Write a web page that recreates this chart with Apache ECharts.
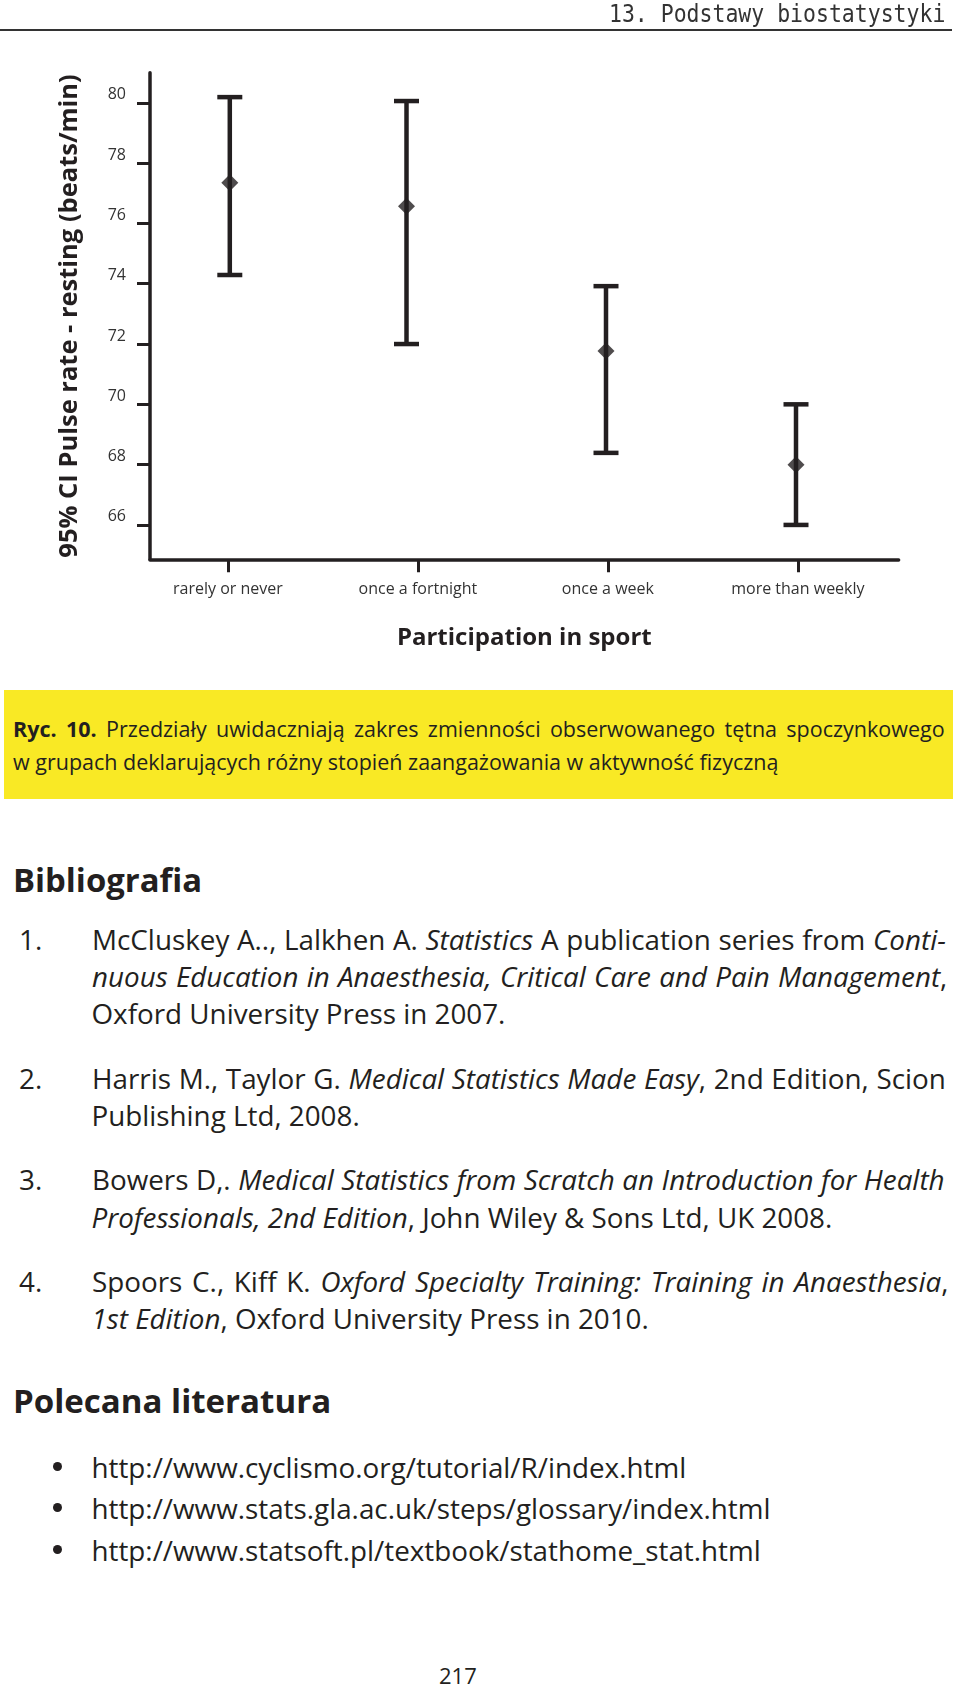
<!DOCTYPE html>
<html>
<head>
<meta charset="utf-8">
<script src="https://cdn.jsdelivr.net/npm/echarts@6/dist/echarts.min.js"></script>
<style>
  html, body { margin:0; padding:0; background:#fff; }
  body { width:960px; height:1688px; position:relative; overflow:hidden; color:#231f20; font-family:"Open Sans", sans-serif; }
  #chart { position:absolute; left:0; top:0; width:960px; height:680px; }
  .t { position:absolute; white-space:nowrap; display:inline-block; transform-origin:0 50%; }
  .body { font-size:27.8px; line-height:32px; }
  .head { font-size:33px; line-height:38px; font-weight:700; }
  .cap { font-size:21.5px; line-height:26px; }
  .bullet { position:absolute; width:9px; height:9px; border-radius:50%; background:#231f20; }
</style>
</head>
<body>
<div id="chart"></div>

<div class="t" data-w="336" data-sy="1.15" style="left:609px; top:-1px; font-family:'DejaVu Sans Mono', monospace; font-size:22px; line-height:26px; color:#333; transform-origin:0 0;">13. Podstawy biostatystyki</div>
<div style="position:absolute; left:0; top:29px; width:952px; height:2px; background:#333;"></div>

<div style="position:absolute; left:4px; top:690px; width:949px; height:109px; background:#F9E925;"></div>
<div class="t cap" data-w="932" data-j="1" style="left:13px; top:716px;"><b>Ryc. 10.</b> Przedziały uwidaczniają zakres zmienności obserwowanego tętna spoczynkowego</div>
<div class="t cap" style="left:13px; top:749px;">w grupach deklarujących różny stopień zaangażowania w aktywność fizyczną</div>

<div class="t head" data-w="189" style="left:13px; top:861px;">Bibliografia</div>

<div class="t body" style="left:19px; top:923px;">1.</div>
<div class="t body" data-w="853.5" data-j="1" style="left:91.5px; top:923px;">McCluskey A.., Lalkhen A. <i>Statistics</i> A publication series from <i>Conti-</i></div>
<div class="t body" data-w="855.5" data-j="1" style="left:91.5px; top:960px;"><i>nuous Education in Anaesthesia, Critical Care and Pain Management</i>,</div>
<div class="t body" style="left:91.5px; top:997px;">Oxford University Press in 2007.</div>

<div class="t body" style="left:19px; top:1062px;">2.</div>
<div class="t body" data-w="853.5" data-j="1" style="left:91.5px; top:1062px;">Harris M., Taylor G. <i>Medical Statistics Made Easy</i>, 2nd Edition, Scion</div>
<div class="t body" style="left:91.5px; top:1099px;">Publishing Ltd, 2008.</div>

<div class="t body" style="left:19px; top:1163px;">3.</div>
<div class="t body" data-w="852.5" data-j="1" style="left:91.5px; top:1163px;">Bowers D,. <i>Medical Statistics from Scratch an Introduction for Health</i></div>
<div class="t body" style="left:91.5px; top:1201px;"><i>Professionals, 2nd Edition</i>, John Wiley &amp; Sons Ltd, UK 2008.</div>

<div class="t body" style="left:19px; top:1265px;">4.</div>
<div class="t body" data-w="856.5" data-j="1" style="left:91.5px; top:1265px;">Spoors C., Kiff K. <i>Oxford Specialty Training: Training in Anaesthesia</i>,</div>
<div class="t body" style="left:91.5px; top:1302px;"><i>1st Edition</i>, Oxford University Press in 2010.</div>

<div class="t head" data-w="318.5" style="left:13px; top:1382px;">Polecana literatura</div>

<div class="bullet" style="left:52.5px; top:1462px;"></div>
<div class="t body" style="left:91.5px; top:1451px;">http://www.cyclismo.org/tutorial/R/index.html</div>
<div class="bullet" style="left:52.5px; top:1503px;"></div>
<div class="t body" style="left:91.5px; top:1492px;">http://www.stats.gla.ac.uk/steps/glossary/index.html</div>
<div class="bullet" style="left:52.5px; top:1545px;"></div>
<div class="t body" style="left:91.5px; top:1534px;">http://www.statsoft.pl/textbook/stathome_stat.html</div>

<div class="t" style="left:439px; top:1661px; font-size:22px; line-height:28px;">217</div>

<script>
// ---- data ----
const categories = ['rarely or never', 'once a fortnight', 'once a week', 'more than weekly'];
const categoryTicks = [0, 1, 2, 3];
// horizontal position of each interval, in category units (as drawn in the original)
const groupPos = [0.01, 0.94, 1.99, 2.99];
const lower = [74.29, 72.0, 68.39, 66.0];
const mean  = [77.35, 76.57, 71.77, 68.0];
const upper = [80.19, 80.06, 73.92, 70.0];
const yTicks = [66, 68, 70, 72, 74, 76, 78, 80];

const INK = '#231f20';
const FONT = 'Open Sans';

const chart = echarts.init(document.getElementById('chart'), null, { renderer: 'canvas' });
chart.setOption({
  animation: false,
  backgroundColor: 'transparent',
  grid: { left: 150, right: 61.4, top: 72.7, bottom: 120.7, containLabel: false },
  xAxis: {
    type: 'value', min: -0.41, max: 3.53,
    splitLine: { show: false },
    axisLine: { show: true, onZero: false, lineStyle: { color: INK, width: 3.5 } },
    axisTick: { show: true, customValues: categoryTicks, length: 13, lineStyle: { color: INK, width: 3 } },
    axisLabel: {
      customValues: categoryTicks, margin: 22, fontSize: 16, color: '#333', fontFamily: FONT,
      formatter: v => categories[Math.round(v)]
    },
    name: 'Participation in sport', nameLocation: 'middle', nameGap: 67,
    nameTextStyle: { fontSize: 24, fontWeight: 'bold', color: INK, fontFamily: FONT }
  },
  yAxis: {
    type: 'value', min: 64.86, max: 81,
    splitLine: { show: false },
    axisLine: { show: true, onZero: false, lineStyle: { color: INK, width: 3.5 } },
    axisTick: { show: true, customValues: yTicks, length: 13, lineStyle: { color: INK, width: 3 } },
    axisLabel: {
      customValues: yTicks, margin: 24, fontSize: 16, color: '#333', fontFamily: FONT,
      verticalAlign: 'bottom', lineHeight: 16
    },
    name: '95% CI Pulse rate - resting (beats/min)', nameLocation: 'middle', nameGap: 67,
    nameTextStyle: { fontSize: 25.5, fontWeight: 'bold', color: INK, fontFamily: FONT }
  },
  series: [
    {
      type: 'custom',
      data: groupPos.map((x, i) => [x, lower[i], upper[i]]),
      renderItem: function (params, api) {
        const x = api.value(0);
        const pLo = api.coord([x, api.value(1)]);
        const pHi = api.coord([x, api.value(2)]);
        const half = 12.5;
        const st = { stroke: INK, lineWidth: 4.5 };
        return {
          type: 'group',
          children: [
            { type: 'line', shape: { x1: pLo[0], y1: pLo[1], x2: pHi[0], y2: pHi[1] }, style: st },
            { type: 'line', shape: { x1: pHi[0] - half, y1: pHi[1], x2: pHi[0] + half, y2: pHi[1] }, style: st },
            { type: 'line', shape: { x1: pLo[0] - half, y1: pLo[1], x2: pLo[0] + half, y2: pLo[1] }, style: st }
          ]
        };
      },
      z: 2
    },
    {
      type: 'scatter',
      data: groupPos.map((x, i) => [x, mean[i]]),
      symbol: 'diamond', symbolSize: [17, 17],
      itemStyle: { color: INK },
      z: 3
    }
  ]
});

// justify / fit the text lines of the page to the widths seen in the reference
function fitText() {
  document.querySelectorAll('[data-w]').forEach(el => {
    el.style.transform = 'none';
    el.style.wordSpacing = '0px';
    const target = parseFloat(el.getAttribute('data-w'));
    const sy = parseFloat(el.getAttribute('data-sy') || '1');
    let w = el.offsetWidth;
    if (el.getAttribute('data-j') && w < target) {
      const n = (el.textContent.match(/ /g) || []).length;
      if (n > 0) {
        el.style.wordSpacing = ((target - w) / n) + 'px';
        w = el.offsetWidth;
      }
    }
    if (w > 0) el.style.transform = 'scale(' + (target / w) + ',' + sy + ')';
  });
}
fitText();
if (document.fonts && document.fonts.ready) document.fonts.ready.then(fitText);
</script>
</body>
</html>
